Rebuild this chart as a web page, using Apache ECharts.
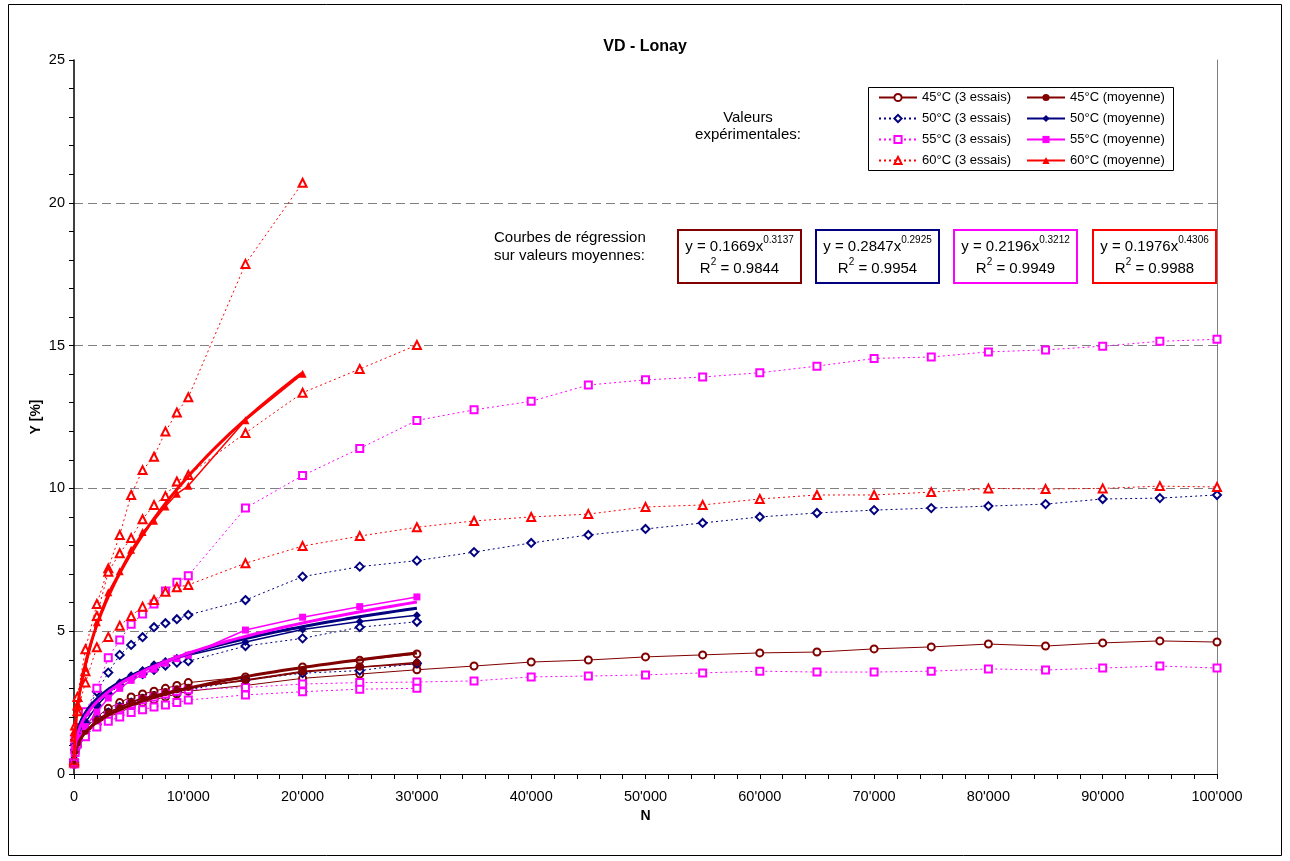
<!DOCTYPE html>
<html>
<head>
<meta charset="utf-8">
<script src="https://cdn.jsdelivr.net/npm/echarts@6/dist/echarts.min.js"></script>
<style>
html,body{margin:0;padding:0;background:#fff;}
#chart{width:1290px;height:861px;}
</style>
</head>
<body>
<div id="chart"></div>
<script>
// Load cycles N at which rut depth Y [%] was read
const N = [10, 100, 300, 1000, 2000, 3000, 4000, 5000, 6000, 7000, 8000, 9000, 10000,
  15000, 20000, 25000, 30000, 35000, 40000, 45000, 50000, 55000, 60000, 65000,
  70000, 75000, 80000, 85000, 90000, 95000, 100000];

// 45°C – three tests and their mean
const t45a = [0.35, 0.75, 1.0, 1.4, 1.75, 2.0, 2.15, 2.35, 2.5, 2.6, 2.7, 2.8, 2.9, 3.1, 3.35, 3.5, 3.65,
  3.78, 3.92, 3.99, 4.1, 4.17, 4.24, 4.27, 4.38, 4.45, 4.55, 4.48, 4.59, 4.66, 4.62];
const t45b = [0.4, 0.85, 1.15, 1.6, 2.0, 2.3, 2.5, 2.7, 2.8, 2.9, 3.0, 3.1, 3.2, 3.4, 3.75, 3.98, 4.2];
const t45c = [0.35, 0.8, 1.1, 1.5, 1.9, 2.15, 2.35, 2.5, 2.65, 2.75, 2.85, 2.95, 3.0, 3.3, 3.6, 3.75, 3.85];
const m45 = [0.37, 0.8, 1.08, 1.5, 1.88, 2.15, 2.33, 2.52, 2.65, 2.75, 2.85, 2.95, 3.03, 3.27, 3.57, 3.74, 3.9];

// 50°C
const t50a = [0.5, 1.2, 1.6, 2.13, 2.88, 3.55, 4.17, 4.52, 4.79, 5.14, 5.28, 5.42, 5.57, 6.09, 6.91, 7.26, 7.47,
  7.77, 8.09, 8.37, 8.58, 8.79, 9.0, 9.14, 9.24, 9.31, 9.38, 9.45, 9.63, 9.66, 9.77];
const t50b = [0.45, 1.05, 1.4, 1.8, 2.4, 2.8, 3.1, 3.35, 3.5, 3.65, 3.8, 3.9, 3.95, 4.48, 4.75, 5.14, 5.33];
const t50c = [0.4, 0.85, 1.15, 1.5, 1.9, 2.15, 2.35, 2.5, 2.62, 2.72, 2.8, 2.88, 2.95, 3.29, 3.53, 3.62, 3.88];
const m50 = [0.45, 1.03, 1.38, 1.81, 2.39, 2.83, 3.21, 3.46, 3.64, 3.84, 3.96, 4.07, 4.16, 4.62, 5.06, 5.34, 5.56];

// 55°C
const t55a = [0.4, 1.2, 1.6, 2.18, 3.0, 4.07, 4.69, 5.24, 5.6, 5.95, 6.41, 6.71, 6.94, 9.31, 10.45, 11.4, 12.38,
  12.75, 13.05, 13.62, 13.8, 13.9, 14.05, 14.28, 14.55, 14.6, 14.78, 14.85, 14.98, 15.15, 15.22];
const t55b = [0.4, 0.85, 1.2, 1.5, 1.85, 2.05, 2.3, 2.45, 2.6, 2.7, 2.8, 2.9, 2.95, 3.03, 3.15, 3.2, 3.22,
  3.26, 3.4, 3.43, 3.47, 3.54, 3.6, 3.57, 3.57, 3.6, 3.68, 3.64, 3.71, 3.78, 3.71];
const t55c = [0.35, 0.75, 1.05, 1.3, 1.65, 1.85, 2.0, 2.15, 2.25, 2.35, 2.42, 2.5, 2.59, 2.77, 2.88, 2.97, 3.0];
const m55 = [0.38, 0.93, 1.28, 1.66, 2.17, 2.66, 3.0, 3.28, 3.48, 3.67, 3.88, 4.04, 4.16, 5.04, 5.49, 5.86, 6.2];

// 60°C
const t60a = [0.5, 1.7, 2.7, 4.37, 5.95, 7.2, 8.37, 9.77, 10.64, 11.11, 11.99, 12.66, 13.19, 17.86, 20.7];
const t60b = [0.45, 1.5, 2.4, 3.6, 5.53, 7.08, 7.73, 8.26, 8.92, 9.42, 9.73, 10.24, 10.47, 11.94, 13.35, 14.18, 15.02];
const t60c = [0.4, 1.3, 2.2, 3.2, 4.44, 4.8, 5.19, 5.53, 5.86, 6.09, 6.38, 6.54, 6.62, 7.38, 7.98, 8.33, 8.64,
  8.86, 9.0, 9.1, 9.35, 9.42, 9.63, 9.77, 9.77, 9.87, 10.0, 9.98, 10.0, 10.08, 10.05];
const m60 = [0.45, 1.5, 2.43, 3.72, 5.31, 6.36, 7.1, 7.85, 8.47, 8.87, 9.37, 9.81, 10.09, 12.39, 14.01];

// Power regressions y = a·x^b fitted on the mean values
const temps = ['45°C', '50°C', '55°C', '60°C'];
const fitA = [0.1669, 0.2847, 0.2196, 0.1976];
const fitB = [0.3137, 0.2925, 0.3212, 0.4306];
const fitR2 = ['0.9844', '0.9954', '0.9949', '0.9988'];
const fitEnd = [30000, 30000, 30000, 20000];

// Axis ticks
const xTickStep = 10000;
const yTickStep = 5;

const colors = ['#800000', '#000080', '#FF00FF', '#FF0000'];
const FONT = 'Liberation Sans, Arial, sans-serif';

function pairs(ys) { return ys.map((y, i) => [N[i], y]); }

function fitCurve(k) {
  const pts = [];
  const n0 = N[0], n1 = fitEnd[k], steps = 240;
  for (let i = 0; i <= steps; i++) {
    const x = n0 * Math.pow(n1 / n0, i / steps);
    pts.push([x, fitA[k] * Math.pow(x, fitB[k])]);
  }
  return pts;
}

const trials = [[t45a, t45b, t45c], [t50a, t50b, t50c], [t55a, t55b, t55c], [t60a, t60b, t60c]];
const means = [m45, m50, m55, m60];
const hollow = ['emptyCircle', 'emptyDiamond', 'emptyRect', 'emptyTriangle'];
const filled = ['circle', 'diamond', 'rect', 'triangle'];
const hollowSize = [7, 8, 7, 8];
const filledSize = [7, 8, 7, 8];
const trialDash = ['solid', [2, 3], [2, 3], [2, 3]];

const series = [];
for (let k = 0; k < 4; k++) {
  trials[k].forEach(arr => {
    series.push({
      name: temps[k] + ' (3 essais)', type: 'line', data: pairs(arr),
      symbol: hollow[k], symbolSize: hollowSize[k], showAllSymbol: true,
      lineStyle: { color: colors[k], width: 1, type: trialDash[k] },
      itemStyle: { color: colors[k], borderWidth: 1.2 },
      z: 2
    });
  });
}
for (let k = 0; k < 4; k++) {
  series.push({
    name: temps[k] + ' (moyenne)', type: 'line', data: pairs(means[k]),
    symbol: filled[k], symbolSize: filledSize[k], showAllSymbol: true,
    lineStyle: { color: colors[k], width: 1.5 },
    itemStyle: { color: colors[k] },
    z: 3
  });
  series.push({
    name: 'fit ' + temps[k], type: 'line', data: fitCurve(k),
    showSymbol: false, symbol: 'none',
    lineStyle: { color: colors[k], width: 3 },
    z: 4
  });
}

const legendNames = [];
temps.forEach(t => { legendNames.push(t + ' (3 essais)'); legendNames.push(t + ' (moyenne)'); });

function fitBox(k, left) {
  const w = 123, h = 53;
  return {
    type: 'group', left: left, top: 229,
    children: [
      { type: 'rect', shape: { x: 0, y: 0, width: w, height: h },
        style: { fill: '#fff', stroke: colors[k], lineWidth: 2 } },
      { type: 'text', x: w / 2, y: h / 2 + 1,
        style: {
          text: '{m|y = ' + fitA[k] + 'x}{s|' + fitB[k] + '}\n{m|R}{s|2}{m| = ' + fitR2[k] + '}',
          align: 'center', verticalAlign: 'middle',
          rich: {
            m: { fontSize: 15, fontFamily: FONT, fill: '#000', lineHeight: 22 },
            s: { fontSize: 10, fontFamily: FONT, fill: '#000', lineHeight: 12, verticalAlign: 'top' }
          }
        } }
    ]
  };
}

const thousands = v => String(v).replace(/\B(?=(\d{3})+(?!\d))/g, "'");

const chart = echarts.init(document.getElementById('chart'), null, { renderer: 'canvas' });
chart.setOption({
  animation: false,
  backgroundColor: '#fff',
  title: {
    text: 'VD - Lonay', left: 'center', top: 34,
    textStyle: { fontFamily: FONT, fontSize: 16, fontWeight: 'bold', color: '#000' }
  },
  grid: { left: 74, right: 73, top: 60, bottom: 87, containLabel: false },
  legend: {
    data: legendNames, left: 878, top: 87, width: 300, padding: 0,
    itemGap: 0, itemWidth: 38, itemHeight: 9, selectedMode: false,
    textStyle: { fontFamily: FONT, fontSize: 13, color: '#000', width: 104, lineHeight: 21 }
  },
  xAxis: {
    type: 'value', min: 0, max: 100000, interval: xTickStep,
    name: 'N', nameLocation: 'middle', nameGap: 31,
    nameTextStyle: { fontFamily: FONT, fontSize: 14, fontWeight: 'bold', color: '#000' },
    axisLine: { show: true, lineStyle: { color: '#000', width: 1 } },
    axisTick: { show: true, length: 5, lineStyle: { color: '#000' } },
    minorTick: { show: true, splitNumber: 5, length: 5, lineStyle: { color: '#000' } },
    axisLabel: { formatter: thousands, fontFamily: FONT, fontSize: 14.5, color: '#000', margin: 15 },
    splitLine: { show: false }
  },
  yAxis: [{
    type: 'value', min: 0, max: 25, interval: yTickStep,
    name: 'Y [%]', nameLocation: 'middle', nameGap: 31, nameRotate: 90, nameMoveOverlap: false,
    nameTextStyle: { fontFamily: FONT, fontSize: 14, fontWeight: 'bold', color: '#000' },
    axisLine: { show: true, lineStyle: { color: '#000', width: 1.5 } },
    axisTick: { show: true, length: 5, lineStyle: { color: '#000' } },
    minorTick: { show: true, splitNumber: 5, length: 5, lineStyle: { color: '#000' } },
    axisLabel: { fontFamily: FONT, fontSize: 14.5, color: '#000', margin: 9 },
    splitLine: { show: true, showMinLine: false, showMaxLine: false,
      lineStyle: { color: '#808080', width: 1, type: [9, 5] } }
  }, {
    type: 'value', min: 0, max: 25, position: 'right',
    axisLine: { show: true, lineStyle: { color: '#808080', width: 1 } },
    axisTick: { show: false }, axisLabel: { show: false }, splitLine: { show: false }
  }],
  graphic: [
    { type: 'rect', shape: { x: 8.5, y: 4.5, width: 1273, height: 851 },
      style: { fill: 'none', stroke: '#000', lineWidth: 1 }, silent: true, z: -10 },
    { type: 'rect', shape: { x: 868.5, y: 87.5, width: 305, height: 83 },
      style: { fill: 'none', stroke: '#000', lineWidth: 1 }, silent: true },
    { type: 'text', x: 748, y: 126,
      style: { text: 'Valeurs\nexpérimentales:', align: 'center', verticalAlign: 'middle',
        fontFamily: FONT, fontSize: 15, lineHeight: 17, fill: '#000' } },
    { type: 'text', x: 494, y: 247,
      style: { text: 'Courbes de régression\nsur valeurs moyennes:', align: 'left', verticalAlign: 'middle',
        fontFamily: FONT, fontSize: 15, lineHeight: 18, fill: '#000' } },
    fitBox(0, 677), fitBox(1, 815), fitBox(2, 953), fitBox(3, 1092)
  ],
  series: series
});
</script>
</body>
</html>
